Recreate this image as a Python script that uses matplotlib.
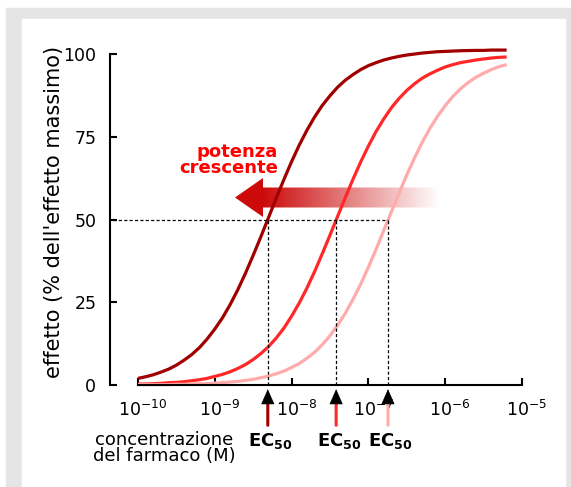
import numpy as np
import matplotlib.pyplot as plt
from matplotlib.patches import Polygon, Rectangle
from matplotlib.transforms import ScaledTranslation

# concentrazione (log10 M) e effetto (%)
log_conc = [-10.0, -9.9, -9.8, -9.7, -9.6, -9.5, -9.4, -9.3, -9.2, -9.1,
            -9.0, -8.9, -8.8, -8.7, -8.6, -8.5, -8.4, -8.3, -8.2, -8.1,
            -8.0, -7.9, -7.8, -7.7, -7.6, -7.5, -7.4, -7.3, -7.2, -7.1,
            -7.0, -6.9, -6.8, -6.7, -6.6, -6.5, -6.4, -6.3, -6.2, -6.1,
            -6.0, -5.9, -5.8, -5.7, -5.6, -5.5, -5.4, -5.3, -5.2]
eff_alta = [2.0, 2.5, 3.1, 3.9, 4.8, 6.0, 7.5, 9.2, 11.3, 13.9,
            16.9, 20.3, 24.3, 28.8, 33.8, 39.2, 44.8, 50.6, 56.5, 62.1,
            67.5, 72.5, 77.0, 81.0, 84.5, 87.4, 90.0, 92.1, 93.8, 95.3,
            96.5, 97.4, 98.2, 98.8, 99.3, 99.7, 100.0, 100.3, 100.5, 100.7,
            100.8, 100.9, 101.0, 101.05, 101.1, 101.1, 101.2, 101.2, 101.2]
eff_media = [0.3, 0.3, 0.4, 0.5, 0.7, 0.8, 1.0, 1.3, 1.6, 2.0,
             2.6, 3.2, 4.0, 5.0, 6.2, 7.7, 9.5, 11.6, 14.2, 17.2,
             20.8, 24.8, 29.3, 34.3, 39.7, 45.3, 51.0, 56.7, 62.2, 67.4,
             72.2, 76.6, 80.4, 83.8, 86.6, 89.0, 91.0, 92.7, 94.0, 95.1,
             96.1, 96.8, 97.4, 97.8, 98.2, 98.5, 98.8, 99.0, 99.1]
eff_bassa = [0.1, 0.1, 0.1, 0.1, 0.1, 0.2, 0.2, 0.3, 0.4, 0.4,
             0.6, 0.7, 0.9, 1.1, 1.4, 1.7, 2.2, 2.7, 3.4, 4.2,
             5.3, 6.5, 8.1, 9.9, 12.2, 14.9, 18.1, 21.7, 25.9, 30.5,
             35.6, 41.0, 46.7, 52.4, 58.0, 63.5, 68.6, 73.3, 77.5, 81.2,
             84.4, 87.2, 89.5, 91.4, 93.0, 94.2, 95.3, 96.2, 96.8]
log_ec50 = [-8.31, -7.42, -6.745]
colori = ["#a00000", "#ff2828", "#ffabab"]
x_esp = [-10, -9, -8, -7, -6, -5]
y_ticks = [0, 25, 50, 75, 100]

plt.rcParams['font.family'] = 'DejaVu Sans'

fig = plt.figure(figsize=(5.71, 4.87), dpi=100)

# sfondo (coordinate in pixel)
bg = fig.add_axes([0, 0, 1, 1], zorder=0)
bg.add_patch(Rectangle((6, 8), 570, 490, color="#e5e5e5", zorder=-5))
bg.add_patch(Rectangle((22, 19), 543, 480, color="white", zorder=-4))

# freccia sfumata "potenza crescente"
xs = np.linspace(235, 440, 300)
grad = np.zeros((1, len(xs), 4))
grad[..., 0] = 0.80
grad[..., 1] = 0.04
grad[..., 2] = 0.04
grad[0, :, 3] = np.clip((440 - xs) / (440 - 263), 0, 1)
im = bg.imshow(grad, extent=(235, 440, 218, 177), aspect='auto',
               interpolation='bilinear', zorder=1)
freccia = Polygon([(235, 197.5), (263, 178), (263, 187.5), (440, 187.5),
                   (440, 207.5), (263, 207.5), (263, 217)],
                  closed=True, fc='none', ec='none')
bg.add_patch(freccia)
im.set_clip_path(freccia)
bg.text(278, 160, "potenza\ncrescente", color="red", fontsize=13,
        fontweight='bold', ha='right', va='center', multialignment='right',
        linespacing=0.9)
bg.text(164, 448, "concentrazione\ndel farmaco (M)", fontsize=13,
        ha='center', va='center', linespacing=0.92)
bg.set_xlim(0, 571)
bg.set_ylim(487, 0)
bg.axis('off')

# grafico principale
ax = fig.add_axes([138 / 571, 102 / 487, 384 / 571, 344.2 / 487], zorder=1)
ax.patch.set_facecolor('none')

conc = 10.0 ** np.array(log_conc)
ec50 = 10.0 ** np.array(log_ec50)
for eff, c in zip([eff_alta, eff_media, eff_bassa], colori):
    ax.plot(conc, eff, color=c, lw=2.3, solid_capstyle='butt',
            solid_joinstyle='round', clip_on=False)

ax.set_xscale('log')
ax.set_xlim(1e-10, 1e-5)
ax.set_ylim(0, 104)

# linee tratteggiate a 50%
dash = (0, (2.5, 1.8))
x_sx = 10.0 ** (-10 - 0.065 * 5)
ax.plot([x_sx, ec50[2]], [50, 50], color='k', lw=0.9, ls=dash, clip_on=False)
for x in ec50:
    ax.plot([x, x], [0, 50], color='k', lw=0.9, ls=dash)

# frecce EC50
for x, c in zip(ec50, colori):
    ax.annotate("", xy=(x, 0), xytext=(0, -29), textcoords='offset points',
                arrowprops=dict(arrowstyle='-', color=c, lw=2.2,
                                shrinkA=0, shrinkB=12))
    ax.annotate("", xy=(x, 0), xytext=(0, -13), textcoords='offset points',
                arrowprops=dict(arrowstyle='-|>,head_length=0.5,head_width=0.22',
                                mutation_scale=20, color='k', lw=0.5,
                                shrinkA=0, shrinkB=3))
    ax.annotate(r"$\mathbf{EC}_\mathbf{50}$", xy=(x, 0), xytext=(2, -40),
                textcoords='offset points', ha='center', va='center',
                fontsize=13)

# assi
for s in ['top', 'right']:
    ax.spines[s].set_visible(False)
ax.spines['left'].set_position(('outward', 20))
ax.spines['left'].set_bounds(0, 100)
ax.spines['left'].set_linewidth(1.5)
ax.spines['bottom'].set_linewidth(1.5)

ax.set_xticks(10.0 ** np.array(x_esp))
ax.set_xticklabels([r"$10^{%d}$" % e for e in x_esp])
ax.xaxis.set_minor_locator(plt.NullLocator())
ax.set_yticks(y_ticks)
ax.set_yticklabels([str(v) for v in y_ticks])
ax.tick_params(direction='in', length=5, width=1.5, labelsize=12.5)
ax.tick_params(axis='y', pad=10)
ax.tick_params(axis='x', pad=11)
for lab in ax.get_xticklabels():
    lab.set_transform(lab.get_transform() + ScaledTranslation(0.05, 0, fig.dpi_scale_trans))

ax.set_ylabel("effetto (% dell'effetto massimo)", fontsize=15)
ax.yaxis.set_label_coords(-0.218, 0.504)
ax.yaxis.label.set_va('center')

fig.savefig("out.png", dpi=100)
